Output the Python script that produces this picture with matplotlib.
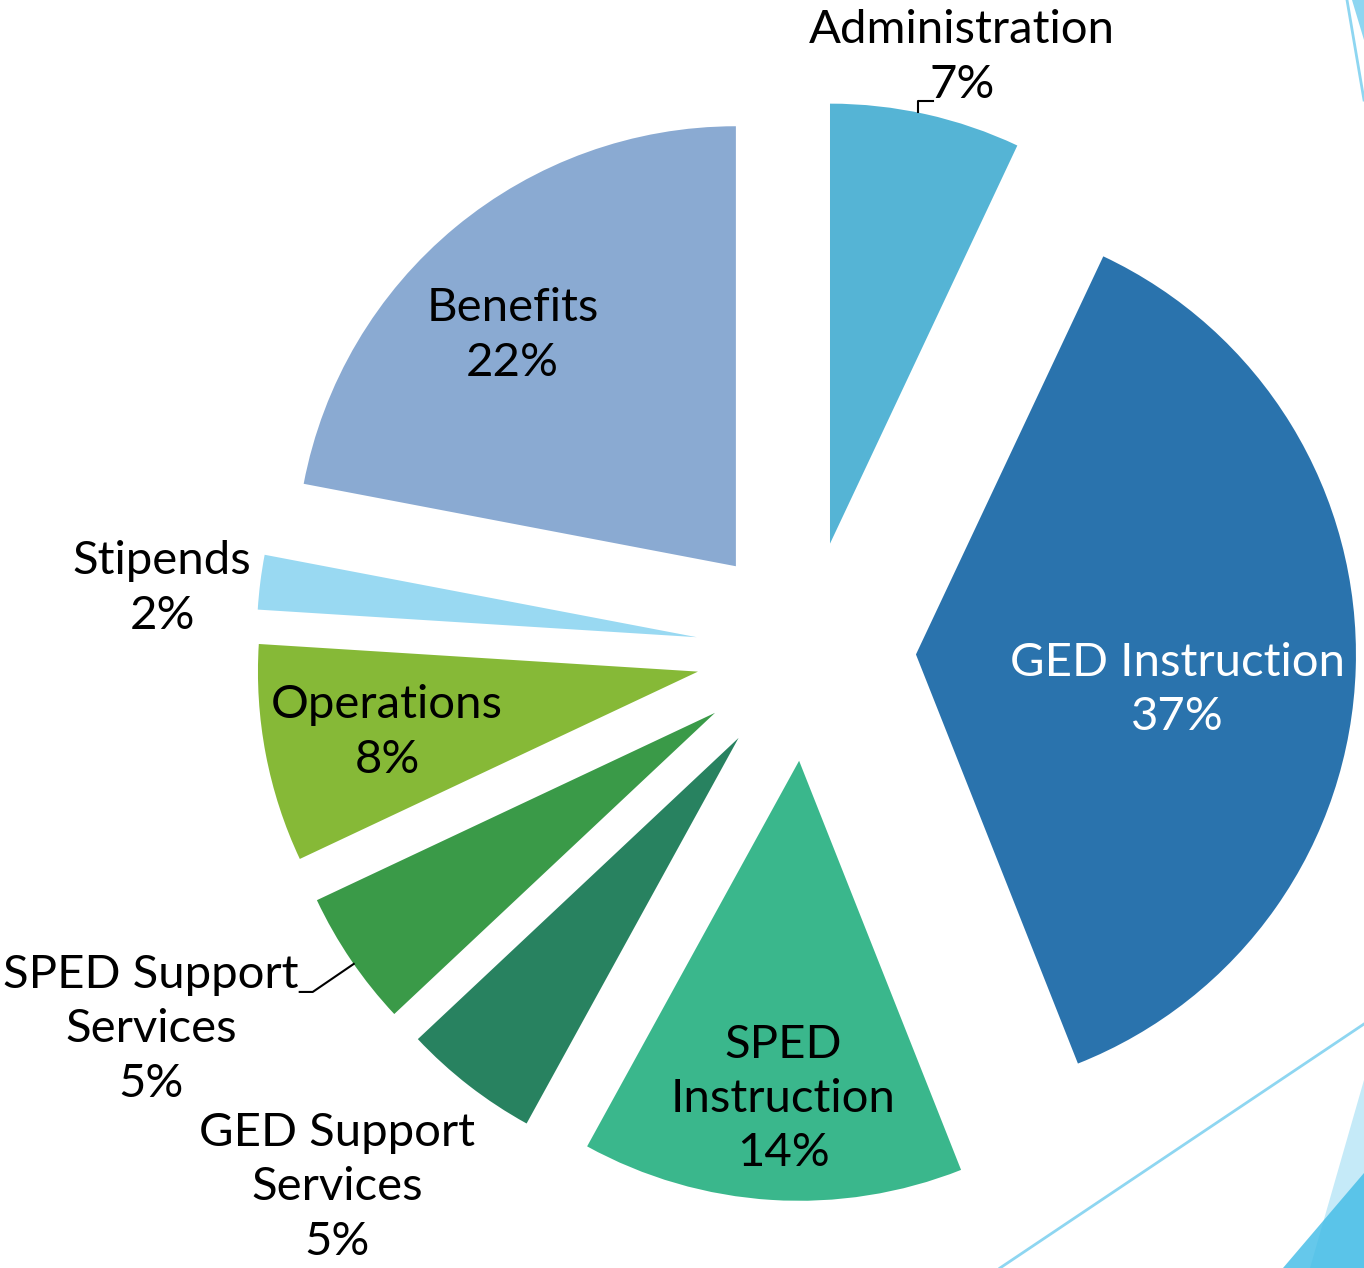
import numpy as np
import matplotlib.pyplot as plt
from matplotlib.patches import Polygon
from matplotlib.lines import Line2D

plt.rcParams["font.family"] = ["Lato", "DejaVu Sans"]

# slice data, clockwise from 12 o'clock
categories = ["Administration", "GED Instruction", "SPED\nInstruction", "GED Support\nServices",
              "SPED Support\nServices", "Operations", "Stipends", "Benefits"]
shares = [7, 37, 14, 5, 5, 8, 2, 22]

colors = ["#55B4D5", "#2A73AD", "#3AB78C", "#288260", "#3A9A48", "#86B937", "#99D9F2", "#8AAAD2"]
text_colors = ["black", "white", "black", "black", "black", "black", "black", "black"]
# label position: distance from exploded wedge tip (in radii) and angle shift from mid-angle (deg)
label_r = [1.145, 0.60, 0.77, 1.37, 1.47, 0.72, 1.22, 0.73]
label_dtheta = [-2.6, -6.0, 0.9, -4.0, -4.9, 0.3, 2.0, 4.5]

W, H = 1364, 1268
R = 440
CENTER = (806, H - 651)

fig = plt.figure(figsize=(W / 100, H / 100), dpi=100)
ax = fig.add_axes([0, 0, 1, 1])

# slide decoration on the right edge
deco_light = "#8ED6F1"
ax.add_patch(Polygon([(1364, H - 1080), (1310, 0), (1364, 0)], closed=True, color="#C5EAF8", lw=0, zorder=0))
ax.add_patch(Polygon([(1364, H - 1173), (1283, 0), (1364, 0)], closed=True, color="#3FBBE6", alpha=0.8, lw=0, zorder=0))
ax.add_patch(Polygon([(1352, H), (1364, H), (1364, H - 40)], closed=True, color=deco_light, lw=0, zorder=0))
ax.add_line(Line2D([1000, 1364], [0, H - 1024], color=deco_light, lw=2, zorder=0))
ax.add_line(Line2D([1347, 1364], [H, H - 100], color=deco_light, lw=2, zorder=0))

# explode is in data units for pie, so scale by radius
wedges, _ = ax.pie(shares, explode=[0.25 * R] * len(shares), radius=R, center=CENTER,
                   startangle=90, counterclock=False, colors=colors,
                   wedgeprops=dict(linewidth=0))

for w, name, s, r, dt, tc in zip(wedges, categories, shares, label_r, label_dtheta, text_colors):
    mid = np.deg2rad((w.theta1 + w.theta2) / 2 + dt)
    cx, cy = w.center
    x = cx + r * R * np.cos(mid)
    y = cy + r * R * np.sin(mid)
    ax.text(x, y, f"{name}\n{s}%", ha="center", va="center", fontsize=34,
            color=tc, linespacing=1.36)

# leader lines for Administration and SPED Support Services
leaders = {0: (1.1, [(0, 11), (15, 11)]), 4: (0.6, [(-41, -28), (-54, -28)])}
for i, (dt, elbows) in leaders.items():
    w = wedges[i]
    a = np.deg2rad((w.theta1 + w.theta2) / 2 + dt)
    px = w.center[0] + R * np.cos(a)
    py = w.center[1] + R * np.sin(a)
    xs = [px] + [px + dx for dx, dy in elbows]
    ys = [py] + [py + dy for dx, dy in elbows]
    ax.plot(xs, ys, color="black", lw=1.5)

ax.set_aspect("equal")
ax.set_xlim(0, W)
ax.set_ylim(0, H)
ax.axis("off")

fig.savefig("out.png", dpi=100, facecolor="white")
